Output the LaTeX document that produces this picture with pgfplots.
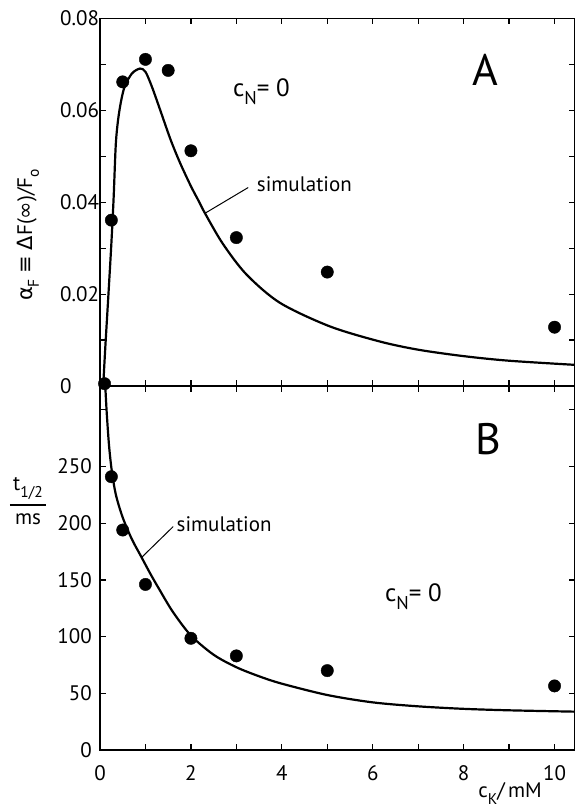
\documentclass[border=0pt]{standalone}
\usepackage{amsmath}
\usepackage{graphicx}
\usepackage{pgfplots}
\pgfplotsset{compat=1.18}
\usepackage{fontspec}
\setmainfont{PT Sans}
\newfontfamily\sym{DejaVu Sans}
\newcommand{\fs}{\fontsize{21pt}{25pt}\selectfont}
\newcommand{\sub}[1]{\raisebox{-0.32em}{\scalebox{0.74}{#1}}}
\begin{document}
\begin{tikzpicture}
\useasboundingbox (-100pt,-58pt) rectangle (475pt,750pt);
\pgfplotsset{panel/.style={
  scale only axis, width=475pt, xmin=0, xmax=10.45,
  axis line style={line width=1.5pt},
  tick align=inside, tick pos=both,
  major tick length=6pt, minor tick length=6pt,
  tick style={black, line width=1.2pt},
  xtick={0,2,4,6,8,10}, minor xtick={1,3,5,7,9},
  tick label style={font=\fs},
  scaled y ticks=false, scaled x ticks=false,
  /pgf/number format/assume math mode=true,
  clip=false,
}}
% ---------- Panel B ----------
\begin{axis}[panel, height=364pt, ymin=0, ymax=321,
  ytick={0,50,100,150,200,250,300},
  yticklabels={0,50,100,150,200,250,{}},
  xticklabels={0,2,4,6,8,10},
  xticklabel style={inner sep=0pt, anchor=north, yshift=-15pt},
  yticklabel style={inner sep=0pt, anchor=east, xshift=-8pt},
]
\addplot[black, line width=2.2pt, smooth, tension=0.5] coordinates {
(0.12,318) (0.15,296) (0.2,268) (0.26,246) (0.35,225) (0.5,205) (0.7,186)
(0.9,171) (1.1,156) (1.3,142) (1.6,122) (2.0,101) (2.5,84) (3.0,73)
(3.5,65) (4.0,58.5) (5.0,48.5) (6.0,42) (7.0,38.5) (8.0,36.3) (9.0,35) (10.45,33.8)};
\addplot[only marks, mark=*, mark size=6.2pt, black] coordinates {
(0.25,241) (0.5,194) (1,146) (2,98.5) (3,83) (5,70) (10,56.5)};
\draw[line width=1pt] (axis cs:0.92,170) -- (axis cs:1.61,197);
\node[font=\fs, anchor=base west, inner sep=0pt] at (axis description cs:0.161,0.60) {simulation};
\node[font=\fontsize{25pt}{30pt}\selectfont, anchor=base west, inner sep=0pt] at (axis description cs:0.60,0.407) {c\sub{N}= 0};
\node[font=\fontsize{44pt}{50pt}\selectfont, inner sep=0pt] at (axis description cs:0.817,0.854) {B};
\node[font=\fs, anchor=base west, inner sep=0pt] at (axis description cs:0.796,-0.131) {c\sub{K}/\,mM};
\node[font=\fs, inner sep=0pt] at (axis description cs:-0.1516,0.684)
  {$\genfrac{}{}{1.5pt}{0}{\makebox[36pt]{t\sub{1/2}}}{\mbox{ms}}$};
\end{axis}
% ---------- Panel A ----------
\begin{axis}[panel, at={(0pt,364pt)}, height=367.5pt, ymin=0, ymax=0.08,
  ytick={0,0.02,0.04,0.06,0.08}, minor ytick={0.01,0.03,0.05,0.07},
  yticklabels={0,0.02,0.04,0.06,0.08},
  xticklabels={},
  yticklabel style={inner sep=0pt, anchor=west, xshift=-40pt},
]
\addplot[black, line width=2.2pt, smooth, tension=0.5] coordinates {
(0.07,0) (0.12,0.009) (0.18,0.019) (0.25,0.031) (0.3,0.041) (0.35,0.053)
(0.42,0.0595) (0.53,0.0648) (0.7,0.068) (0.88,0.0691) (1.0,0.0684)
(1.14,0.0652) (1.32,0.0602) (1.55,0.0537) (1.76,0.0486) (2.0,0.0435)
(2.18,0.0401) (2.31,0.0376) (2.7,0.031) (3.22,0.0243) (3.96,0.0181)
(5.05,0.013) (6.15,0.0097) (7,0.0079) (8,0.0065) (9,0.0055) (10.45,0.0046)};
\addplot[only marks, mark=*, mark size=6.2pt, black] coordinates {
(0.1,0.0005) (0.25,0.0361) (0.5,0.0662) (1,0.0711) (1.5,0.0687)
(2,0.0512) (3,0.0323) (5,0.0248) (10,0.0128)};
\draw[line width=1pt] (axis cs:2.31,0.0376) -- (axis cs:3.26,0.0432);
\node[font=\fs, anchor=base west, inner sep=0pt] at (axis description cs:0.33,0.529) {simulation};
\node[font=\fontsize{25pt}{30pt}\selectfont, anchor=base west, inner sep=0pt] at (axis description cs:0.28,0.789) {c\sub{N}= 0};
\node[font=\fontsize{44pt}{50pt}\selectfont, inner sep=0pt] at (axis description cs:0.8105,0.86) {A};
\node[font=\fs, rotate=90, inner sep=0pt] at (axis description cs:-0.1516,0.411)
  {{\sym α}\sub{F} {\sym ≡} {\sym Δ}F({\sym ∞})/F\sub{o}};
\end{axis}
\end{tikzpicture}
\end{document}
